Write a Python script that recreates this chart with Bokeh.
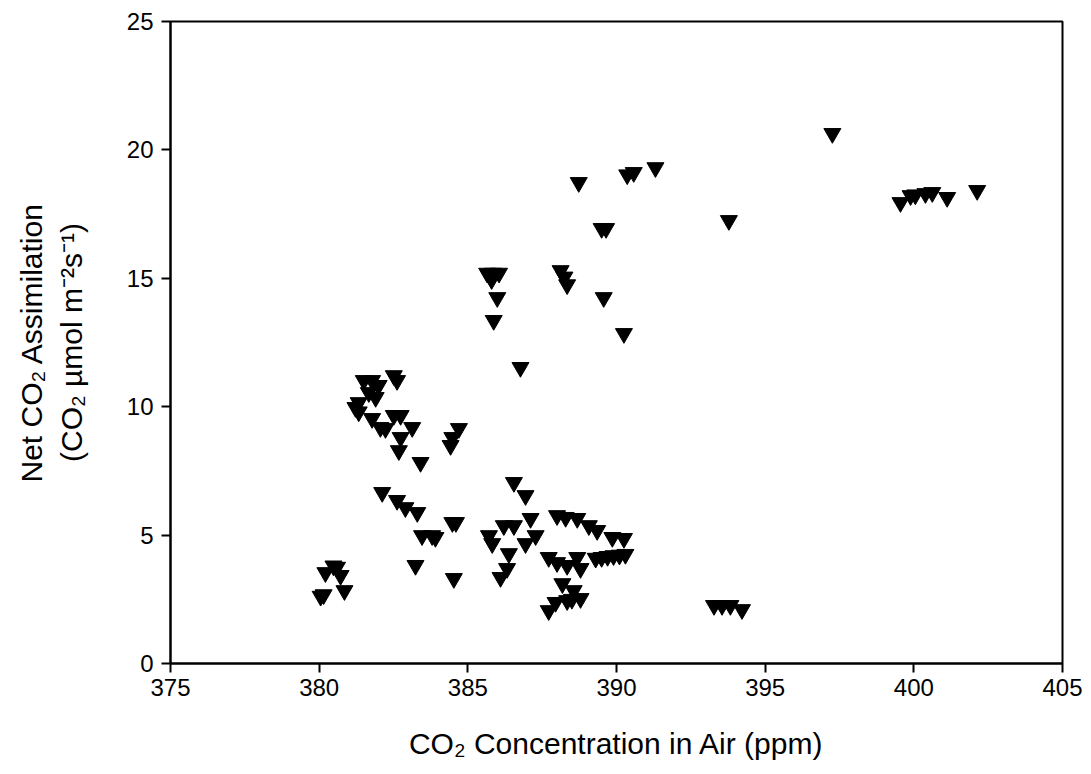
from bokeh.plotting import figure
from bokeh.embed import file_html
from bokeh.resources import INLINE
from bokeh.models import ColumnDataSource, FixedTicker

co2_air = [
    380.05, 380.15, 380.21, 380.48, 380.60, 380.72, 380.85,
    381.50, 381.78, 382.00, 382.51, 382.62, 381.67, 381.90, 381.33, 381.22, 381.33,
    381.78, 382.06, 382.23, 382.51, 382.74, 383.13, 382.74, 382.68, 383.41,
    384.70, 384.48, 384.42,
    382.12, 382.62, 382.90, 383.30, 383.46, 383.80, 383.91, 384.48, 384.60,
    383.24, 384.53,
    385.65, 385.85, 386.05, 385.80, 385.99, 385.87, 386.77,
    388.12, 388.25, 388.34, 389.57, 390.25,
    388.73, 390.36, 390.58, 391.31, 389.50, 389.65,
    397.26, 393.78, 399.55, 399.89, 400.05, 400.39, 400.62, 401.12, 402.13,
    393.28, 393.55, 393.83, 394.22,
    386.55, 386.94, 387.11, 386.55, 386.21, 385.71, 385.82, 386.38, 387.28, 386.94,
    386.32, 386.10,
    388.00, 388.29, 388.68, 389.07, 389.35, 389.86, 390.25,
    389.30, 389.50, 389.70, 389.90, 390.10, 390.30,
    387.72, 388.00, 388.34, 388.68, 388.79, 388.18, 388.56, 388.79, 388.34,
    387.95, 387.72, 388.50,
]
assimilation = [
    2.62, 2.68, 3.54, 3.80, 3.75, 3.43, 2.84,
    11.02, 11.02, 10.83, 11.21, 11.02, 10.55, 10.36, 10.16, 9.97, 9.80,
    9.54, 9.19, 9.15, 9.66, 9.66, 9.19, 8.80, 8.29, 7.83,
    9.15, 8.80, 8.49,
    6.66, 6.35, 6.07, 5.88, 4.98, 4.98, 4.91, 5.49, 5.49,
    3.82, 3.31,
    15.20, 15.20, 15.20, 14.95, 14.25, 13.36, 11.53,
    15.30, 15.05, 14.75, 14.25, 12.85,
    18.73, 19.03, 19.12, 19.31, 16.94, 16.94,
    20.64, 17.25, 17.95, 18.22, 18.25, 18.30, 18.34, 18.15, 18.42,
    2.26, 2.26, 2.26, 2.10,
    7.05, 6.54, 5.65, 5.37, 5.37, 4.98, 4.67, 4.28, 4.98, 4.67,
    3.70, 3.35,
    5.76, 5.69, 5.65, 5.37, 5.18, 4.91, 4.87,
    4.10, 4.13, 4.17, 4.20, 4.22, 4.25,
    4.13, 3.93, 3.82, 4.13, 3.70, 3.11, 2.84, 2.53, 2.45,
    2.38, 2.06, 2.50,
]
x_ticks = [375, 380, 385, 390, 395, 400, 405]
y_ticks = [0, 5, 10, 15, 20, 25]

src = ColumnDataSource(dict(x=co2_air, y=assimilation))

p = figure(width=1091, height=774, output_backend="svg", toolbar_location=None,
           x_range=(375, 405), y_range=(0, 25),
           min_border_left=170, min_border_right=29, min_border_top=21, min_border_bottom=111)

p.scatter("x", "y", source=src, marker="inverted_triangle", size=17,
          fill_color="black", line_color="black")

p.xgrid.visible = False
p.ygrid.visible = False
p.outline_line_color = "black"
p.outline_line_width = 2
p.background_fill_color = "white"
p.border_fill_color = "white"

tick_font = "'Liberation Sans', Arial, sans-serif"
title_font = "'Liberation Sans', Arial, sans-serif"

for ax in (p.xaxis[0], p.yaxis[0]):
    ax.axis_line_width = 2
    ax.axis_line_color = "black"
    ax.major_tick_line_width = 2
    ax.major_tick_line_color = "black"
    ax.major_tick_out = 9
    ax.major_tick_in = 0
    ax.minor_tick_out = 0
    ax.minor_tick_in = 0
    ax.major_label_text_font = tick_font
    ax.major_label_text_font_size = "24px"
    ax.major_label_text_color = "black"
    ax.axis_label_text_font = title_font
    ax.axis_label_text_font_size = "30px"
    ax.axis_label_text_font_style = "normal"
    ax.axis_label_text_color = "black"

p.xaxis[0].ticker = FixedTicker(ticks=x_ticks)
p.yaxis[0].ticker = FixedTicker(ticks=y_ticks)
p.xaxis[0].major_label_standoff = 6
p.yaxis[0].major_label_standoff = 8
p.xaxis[0].axis_label = "CO\u2082 Concentration in Air (ppm)"
p.yaxis[0].axis_label = "Net CO\u2082 Assimilation\n(CO\u2082 \u00b5mol m\u207b\u00b2s\u207b\u00b9)"
p.xaxis[0].axis_label_standoff = 28
p.yaxis[0].axis_label_standoff = 36

open("out.html", "w").write(file_html(p, INLINE))
